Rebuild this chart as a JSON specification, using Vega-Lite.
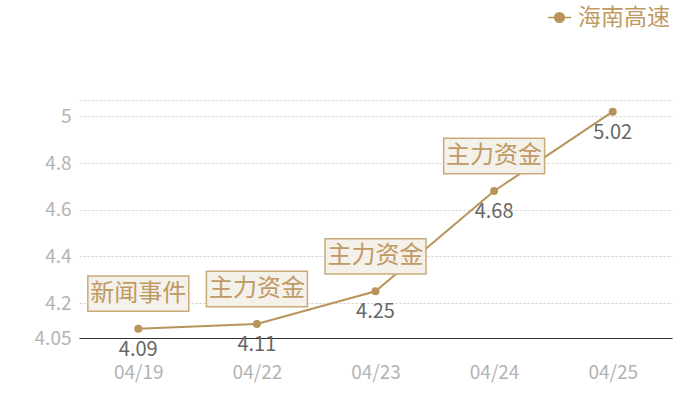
{
  "$schema": "https://vega.github.io/schema/vega-lite/v6.json",
  "autosize": "none",
  "width": 593,
  "height": 238,
  "padding": {"left": 79, "top": 100, "right": 28, "bottom": 62},
  "background": "#ffffff",
  "config": {
    "view": {"stroke": null},
    "font": "Noto Sans CJK SC"
  },
  "data": {
    "values": [
      {"date": "04/19", "price": 4.09, "series": "海南高速", "note": "新闻事件"},
      {"date": "04/22", "price": 4.11, "series": "海南高速", "note": "主力资金"},
      {"date": "04/23", "price": 4.25, "series": "海南高速", "note": "主力资金"},
      {"date": "04/24", "price": 4.68, "series": "海南高速", "note": "主力资金"},
      {"date": "04/25", "price": 5.02, "series": "海南高速", "note": null}
    ]
  },
  "encoding": {
    "x": {
      "field": "date",
      "type": "ordinal",
      "sort": null,
      "scale": {"type": "point", "padding": 0.5},
      "axis": {
        "title": null,
        "labelAngle": 0,
        "labelFontSize": 19,
        "labelColor": "#b3b3b3",
        "labelPadding": 25,
        "ticks": false,
        "domainColor": "#333333",
        "domainWidth": 1.2,
        "grid": false
      }
    },
    "y": {
      "field": "price",
      "type": "quantitative",
      "scale": {"domain": [4.05, 5.07], "nice": false, "zero": false},
      "axis": {
        "title": null,
        "values": [4.05, 4.2, 4.4, 4.6, 4.8, 5, 5.07],
        "labelExpr": "datum.value > 5.05 ? '' : format(datum.value, '~g')",
        "labelFontSize": 19,
        "labelColor": "#b3b3b3",
        "labelPadding": 8,
        "ticks": false,
        "domain": false,
        "gridColor": "#cccccc",
        "gridDash": [2, 2],
        "gridWidth": 1
      }
    }
  },
  "layer": [
    {
      "mark": {"type": "line", "strokeWidth": 2},
      "encoding": {
        "color": {
          "field": "series",
          "type": "nominal",
          "scale": {"range": ["#b8935a"]},
          "legend": {
            "title": null,
            "orient": "none",
            "legendX": 468,
            "legendY": -95,
            "symbolType": "M-1,0H1M0.42,0A0.42,0.42,0,1,1,-0.42,0A0.42,0.42,0,1,1,0.42,0",
            "symbolSize": 529,
            "symbolStrokeWidth": 1.5,
            "symbolFillColor": "#b8935a",
            "labelFontSize": 23,
            "labelColor": "#bf9a63",
            "labelOffset": 6
          }
        }
      }
    },
    {
      "mark": {"type": "point", "filled": true, "size": 64, "opacity": 1, "color": "#b8935a"}
    },
    {
      "mark": {"type": "text", "dy": 21, "fontSize": 20, "color": "#666666"},
      "encoding": {"text": {"field": "price", "type": "quantitative", "format": ".2f"}}
    },
    {
      "transform": [{"filter": "isValid(datum.note)"}],
      "mark": {
        "type": "point",
        "shape": "M-1,-0.35H1V0.35H-1Z",
        "size": 10201,
        "filled": false,
        "fill": "#f4f0ea",
        "fillOpacity": 1,
        "stroke": "#c9a977",
        "strokeWidth": 1.5,
        "opacity": 1,
        "yOffset": -35
      }
    },
    {
      "transform": [{"filter": "isValid(datum.note)"}],
      "mark": {"type": "text", "dy": -35, "fontSize": 24, "color": "#bf9a63", "baseline": "middle"},
      "encoding": {"text": {"field": "note", "type": "nominal"}}
    }
  ]
}
